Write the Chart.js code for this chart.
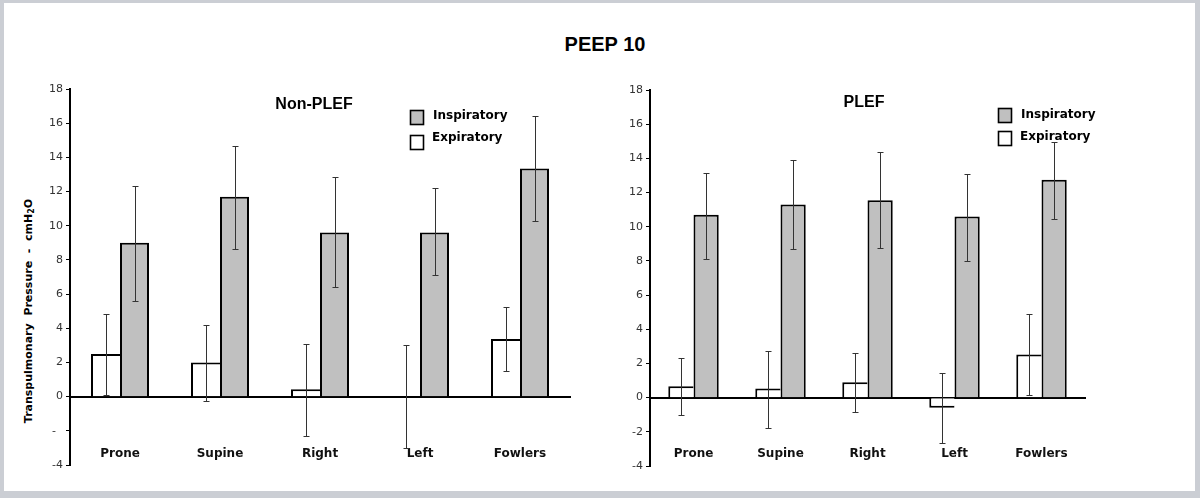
<!DOCTYPE html>
<html>
<head>
<meta charset="utf-8">
<script src="https://cdn.jsdelivr.net/npm/chart.js@4/dist/chart.umd.min.js"></script>
<style>
html,body{margin:0;padding:0;}
body{width:1200px;height:498px;background:#cbced4;position:relative;overflow:hidden;}
#panel{position:absolute;left:4px;top:3px;width:1191px;height:488px;background:#ffffff;}
canvas{position:absolute;top:0;}
#c1{left:0;}
#c2{left:600px;}
#title{position:absolute;left:5px;width:1200px;top:33px;text-align:center;font:bold 20px "Liberation Sans",Arial,sans-serif;color:#000;}
#ytitle{position:absolute;left:28px;top:311px;transform:translate(-50%,-50%) rotate(-90deg);white-space:pre;font:bold 11px "DejaVu Sans",Verdana,sans-serif;color:#000;}
#ytitle sub{font-size:8px;vertical-align:-2px;line-height:0;}
</style>
</head>
<body>
<div id="panel"></div>
<div id="title">PEEP 10</div>
<div id="ytitle">Transpulmonary  Pressure  -  cmH<sub>2</sub>O</div>
<canvas id="c1" width="600" height="498"></canvas>
<canvas id="c2" width="600" height="498"></canvas>
<script>
// ---- data ----
const categories = ['Prone', 'Supine', 'Right', 'Left', 'Fowlers'];
const seriesNames = ['Inspiratory', 'Expiratory'];

const nonPlefInsp   = [9.0, 11.7, 9.6, 9.6, 13.35];
const nonPlefInspLo = [5.6, 8.65, 6.4, 7.1, 10.25];
const nonPlefInspHi = [12.3, 14.65, 12.85, 12.2, 16.4];
const nonPlefExp    = [2.5, 2.0, 0.43, 0, 3.37];
const nonPlefExpLo  = [0.1, -0.23, -2.28, -3.0, 1.48];
const nonPlefExpHi  = [4.83, 4.2, 3.08, 3.04, 5.24];

const plefInsp   = [10.7, 11.3, 11.55, 10.6, 12.75];
const plefInspLo = [8.13, 8.7, 8.74, 8.0, 10.44];
const plefInspHi = [13.14, 13.88, 14.37, 13.06, 14.97];
const plefExp    = [0.66, 0.53, 0.9, -0.59, 2.52];
const plefExpLo  = [-1.04, -1.76, -0.86, -2.64, 0.15];
const plefExpHi  = [2.29, 2.7, 2.64, 1.44, 4.87];

const yMin = -4, yMax = 18, yStep = 2;
const leftTickLabels  = ['-4', '-\u2007', '0', '2', '4', '6', '8', '10', '12', '14', '16', '18'];
const rightTickLabels = ['-4', '-2', '0', '2', '4', '6', '8', '10', '12', '14', '16', '18'];

// ---- plugins ----
const errorBarPlugin = {
  id: 'errorBars',
  afterDatasetsDraw(chart) {
    const ctx = chart.ctx, ys = chart.scales.y;
    ctx.save();
    ctx.strokeStyle = '#333333';
    ctx.lineWidth = 1;
    chart.data.datasets.forEach((ds, di) => {
      const meta = chart.getDatasetMeta(di);
      meta.data.forEach((el, i) => {
        const x = Math.round(el.x) + 0.5;
        const yH = Math.round(ys.getPixelForValue(ds.errHi[i])) + 0.5;
        const yL = Math.round(ys.getPixelForValue(ds.errLo[i])) + 0.5;
        ctx.beginPath();
        ctx.moveTo(x, yH); ctx.lineTo(x, yL);
        ctx.moveTo(x - 3, yH); ctx.lineTo(x + 3, yH);
        ctx.moveTo(x - 3, yL); ctx.lineTo(x + 3, yL);
        ctx.stroke();
      });
    });
    ctx.restore();
  }
};

const overlayPlugin = {
  id: 'overlay',
  afterDraw(chart, args, opts) {
    const ctx = chart.ctx;
    ctx.save();
    ctx.fillStyle = '#000';
    ctx.font = 'bold 16px "Liberation Sans", Arial, sans-serif';
    ctx.textAlign = 'center';
    ctx.textBaseline = 'middle';
    ctx.fillText(opts.subtitle, opts.subX, opts.subY);
    // legend: Inspiratory first then Expiratory
    const order = [1, 0];
    ctx.font = 'bold 12px "DejaVu Sans", Verdana, sans-serif';
    ctx.textAlign = 'left';
    order.forEach((di, k) => {
      const ds = chart.data.datasets[di];
      const bx = opts.legX + 0.5 , by = opts.legY[k] + 0.5;
      ctx.fillStyle = ds.backgroundColor;
      ctx.fillRect(bx, by, 13, 14);
      ctx.strokeStyle = '#000';
      ctx.lineWidth = 1.6;
      ctx.strokeRect(bx, by, 13, 14);
      ctx.fillStyle = '#000';
      ctx.fillText(ds.label, opts.textX[k], opts.textY[k]);
    });
    ctx.restore();
  }
};

function makeChart(id, exp, expLo, expHi, insp, inspLo, inspHi, tickLabels, cfg) {
  return new Chart(document.getElementById(id), {
    type: 'bar',
    data: {
      labels: categories,
      datasets: [
        {
          label: seriesNames[1], data: exp, errLo: expLo, errHi: expHi,
          backgroundColor: '#ffffff', borderColor: '#000000',
          borderWidth: {top: 2, left: 2, right: 0, bottom: 2}, borderSkipped: 'start'
        },
        {
          label: seriesNames[0], data: insp, errLo: inspLo, errHi: inspHi,
          backgroundColor: '#c0c0c0', borderColor: '#000000',
          borderWidth: 2, borderSkipped: 'start'
        }
      ]
    },
    options: {
      responsive: false,
      animation: false,
      categoryPercentage: 0.58,
      barPercentage: 1.0,
      layout: {padding: cfg.padding},
      plugins: {
        legend: {display: false},
        tooltip: {enabled: false},
        title: {display: false},
        overlay: cfg.overlay
      },
      scales: {
        x: {
          type: 'category',
          position: {y: 0},
          offset: true,
          z: 1,
          grid: {display: false, drawTicks: false},
          border: {display: true, color: '#000', width: 2},
          ticks: {
            color: '#111',
            font: {family: '"DejaVu Sans", Verdana, sans-serif', size: 12, weight: 'bold'},
            padding: cfg.xPad,
            maxRotation: 0
          },
          afterFit: s => { s.height = 0; }
        },
        y: {
          min: yMin, max: yMax,
          z: 1,
          grid: {drawOnChartArea: false, drawTicks: true, tickLength: 4, color: '#000', lineWidth: 1},
          border: {display: true, color: '#000', width: 2},
          ticks: {
            stepSize: yStep,
            color: '#333',
            padding: 3,
            font: {family: '"DejaVu Sans", Verdana, sans-serif', size: 11},
            callback: (v, i) => tickLabels[i]
          },
          afterFit: s => { s.width = cfg.yWidth; }
        }
      }
    },
    plugins: [errorBarPlugin, overlayPlugin]
  });
}

makeChart('c1', nonPlefExp, nonPlefExpLo, nonPlefExpHi, nonPlefInsp, nonPlefInspLo, nonPlefInspHi, leftTickLabels, {
  padding: {left: 10, right: 30, top: 89, bottom: 33},
  yWidth: 60,
  xPad: 50,
  overlay: {subtitle: 'Non-PLEF', subX: 314, subY: 105, legX: 410, legY: [110, 135], textX: [433, 432], textY: [116, 138]}
});

makeChart('c2', plefExp, plefExpLo, plefExpHi, plefInsp, plefInspLo, plefInspHi, rightTickLabels, {
  padding: {left: 10, right: 115, top: 90, bottom: 32},
  yWidth: 40,
  xPad: 49,
  overlay: {subtitle: 'PLEF', subX: 264, subY: 103, legX: 398, legY: [108, 131], textX: [421, 420], textY: [115, 137]}
});
</script>
</body>
</html>
